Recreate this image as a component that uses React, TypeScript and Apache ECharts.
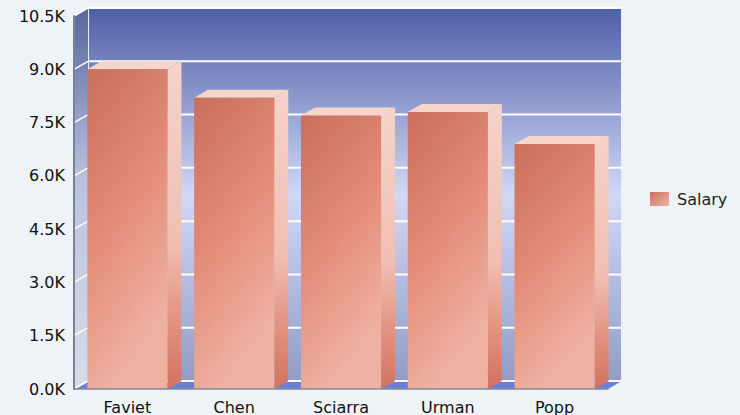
import React, { useEffect, useRef } from "react";
import * as echarts from "echarts";

const categories = ["Faviet", "Chen", "Sciarra", "Urman", "Popp"];
const salaries = [9000, 8200, 7700, 7800, 6900];
const yTicks = [0, 1500, 3000, 4500, 6000, 7500, 9000, 10500];
const seriesName = "Salary";

const DX = 14;
const DY = -8;
const FONT = "DejaVu Sans, Verdana, sans-serif";
const FS = 16;

export default function App() {
  const ref = useRef<HTMLDivElement>(null);
  useEffect(() => {
    if (!ref.current) return;
    const chart = echarts.init(ref.current, undefined, { renderer: "svg" });
    const G = echarts.graphic;
    const frontGrad = () =>
      new G.LinearGradient(0, 0, 0.35, 1, [
        { offset: 0, color: "#c96f5b" },
        { offset: 0.5, color: "#e38b77" },
        { offset: 1, color: "#efb2a2" },
      ]);
    const sideGrad = () =>
      new G.LinearGradient(0, 0, 0, 1, [
        { offset: 0, color: "#f6d3c9" },
        { offset: 0.55, color: "#f0bfb2" },
        { offset: 0.8, color: "#e2917f" },
        { offset: 1, color: "#d2735f" },
      ]);
    const wallGrad = new G.LinearGradient(0, 0, 0, 1, [
      { offset: 0, color: "#4f5fa7" },
      { offset: 0.5, color: "#cfd8f7" },
      { offset: 1, color: "#939cc6" },
    ]);
    const leftWallGrad = new G.LinearGradient(0, 0, 0, 1, [
      { offset: 0, color: "#56669f" },
      { offset: 0.45, color: "#b9c3e0" },
      { offset: 1, color: "#d6dce9" },
    ]);

    const option: any = {
      animation: false,
      backgroundColor: "#eef3f8",
      textStyle: { fontFamily: FONT },
      grid: { left: 74, top: 16, width: 534, height: 374, containLabel: false },
      legend: {
        data: [{ name: seriesName, icon: "rect" }],
        left: 645,
        top: 186,
        itemWidth: 19,
        itemHeight: 14,
        textStyle: { fontSize: FS, color: "#222", fontFamily: FONT, padding: [0, 0, 0, 3] },
      },
      xAxis: {
        type: "category",
        data: categories,
        z: 5,
        axisLine: { show: true, lineStyle: { color: "#858b95", width: 1.5 } },
        axisTick: { show: false },
        axisLabel: { color: "#111", fontSize: FS, margin: 10, fontFamily: FONT },
        splitLine: { show: false },
      },
      yAxis: {
        type: "value",
        min: 0,
        max: yTicks[yTicks.length - 1],
        interval: yTicks[1] - yTicks[0],
        z: 5,
        axisLine: { show: true, lineStyle: { color: "#7b8290", width: 2 } },
        axisTick: { show: false },
        splitLine: { show: false },
        axisLabel: {
          color: "#111",
          fontSize: FS,
          margin: 9,
          fontFamily: FONT,
          formatter: (v: number) => (v / 1000).toFixed(1) + "K",
        },
      },
      series: [
        {
          type: "custom",
          name: "bg",
          silent: true,
          clip: false,
          z: 1,
          data: [[0, 0]],
          renderItem: (params: any, api: any) => {
            const cs = params.coordSys;
            const x0 = cs.x, y0 = cs.y, w = cs.width, h = cs.height;
            const children: any[] = [
              {
                type: "rect",
                shape: { x: x0 + DX, y: y0 + DY, width: w, height: h },
                style: { fill: wallGrad, stroke: "#eef0fb", lineWidth: 2 },
              },
              {
                type: "polygon",
                shape: {
                  points: [
                    [x0, y0],
                    [x0 + DX, y0 + DY],
                    [x0 + DX, y0 + h + DY],
                    [x0, y0 + h],
                  ],
                },
                style: { fill: leftWallGrad },
              },
              {
                type: "polygon",
                shape: {
                  points: [
                    [x0, y0 + h],
                    [x0 + w, y0 + h],
                    [x0 + w + DX, y0 + h + DY],
                    [x0 + DX, y0 + h + DY],
                  ],
                },
                style: { fill: "#6a7fd8" },
              },
            ];
            yTicks.forEach((t) => {
              const yy = api.coord([0, t])[1];
              children.push({
                type: "line",
                shape: { x1: x0 + DX, y1: yy + DY, x2: x0 + w + DX, y2: yy + DY },
                style: { stroke: "#ffffff", lineWidth: 2 },
              });
              children.push({
                type: "line",
                shape: { x1: x0, y1: yy, x2: x0 + DX, y2: yy + DY },
                style: { stroke: "#ffffff", lineWidth: 1.5 },
              });
            });
            return { type: "group", children };
          },
        },
        {
          type: "custom",
          name: seriesName,
          clip: false,
          z: 3,
          itemStyle: {
            color: new G.LinearGradient(0, 0, 1, 1, [
              { offset: 0, color: "#c96f5b" },
              { offset: 1, color: "#f0b5a6" },
            ]),
          },
          data: salaries.map((v, i) => [i, v]),
          encode: { x: 0, y: 1 },
          renderItem: (params: any, api: any) => {
            const top = api.coord([api.value(0), api.value(1)]);
            const base = api.coord([api.value(0), 0]);
            const bw = api.size([1, 0])[0] * 0.75;
            const l = top[0] - bw / 2;
            const r = l + bw;
            return {
              type: "group",
              children: [
                {
                  type: "polygon",
                  shape: {
                    points: [
                      [r, top[1]],
                      [r + DX, top[1] + DY],
                      [r + DX, base[1] + DY],
                      [r, base[1]],
                    ],
                  },
                  style: { fill: sideGrad() },
                },
                {
                  type: "polygon",
                  shape: {
                    points: [
                      [l, top[1]],
                      [l + DX, top[1] + DY],
                      [r + DX, top[1] + DY],
                      [r, top[1]],
                    ],
                  },
                  style: { fill: "#f6d5cb" },
                },
                {
                  type: "rect",
                  shape: { x: l, y: top[1], width: bw, height: base[1] - top[1] },
                  style: { fill: frontGrad() },
                },
              ],
            };
          },
        },
      ],
    };
    chart.setOption(option);
    return () => chart.dispose();
  }, []);
  return (
    <div
      ref={ref}
      style={{ position: "fixed", left: 0, top: 0, width: 740, height: 415 }}
    />
  );
}
